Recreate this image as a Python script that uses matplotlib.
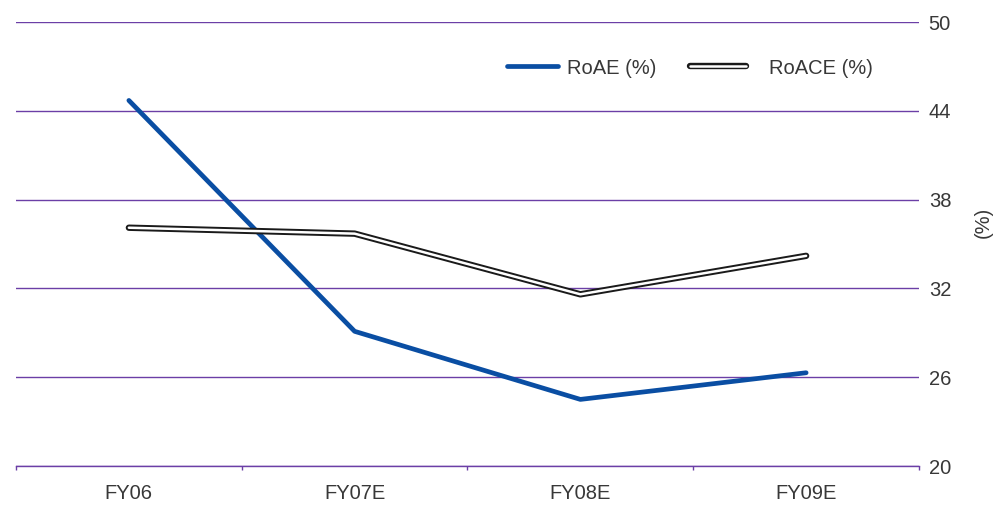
import matplotlib.pyplot as plt
from matplotlib.lines import Line2D
import numpy as np

categories = ['FY06', 'FY07E', 'FY08E', 'FY09E']
roae = [44.7, 29.1, 24.5, 26.3]
roace = [36.1, 35.7, 31.6, 34.2]
yticks = [20, 26, 32, 38, 44, 50]

plt.rcParams['font.family'] = ['Liberation Sans', 'DejaVu Sans']
grid_col = '#6b3fa6'
text_col = '#383838'
blue = '#0a4ea3'
fs = 14.5

fig = plt.figure(figsize=(10.03, 5.08), dpi=100)
ax = fig.add_axes([16 / 1003, 1 - 466 / 508, 903 / 1003, 444 / 508])

x = np.arange(len(categories))
ax.plot(x, roae, color=blue, lw=3.4, solid_capstyle='round', zorder=3)
ax.plot(x, roace, color='#1a1a1a', lw=4.6, solid_capstyle='round', zorder=4)
ax.plot(x, roace, color='white', lw=1.8, solid_capstyle='round', zorder=5)

ax.set_xlim(-0.5, len(categories) - 0.5)
ax.set_ylim(20, 50)
ax.set_yticks(yticks)
ax.yaxis.tick_right()
ax.tick_params(axis='y', length=0, pad=7, labelsize=fs, labelcolor=text_col)
ax.set_xticks(x)
ax.set_xticklabels(categories)
ax.set_xticks(np.arange(len(categories) + 1) - 0.5, minor=True)
ax.tick_params(axis='x', which='major', length=0, pad=13, labelsize=fs, labelcolor=text_col)
ax.tick_params(axis='x', which='minor', length=3, width=1, color=grid_col)
ax.grid(axis='y', color=grid_col, lw=1)

for s in ['top', 'left', 'right']:
    ax.spines[s].set_visible(False)
ax.spines['bottom'].set_color(grid_col)
ax.spines['bottom'].set_linewidth(1)

fig.text(983 / 1003, 1 - 222 / 508, '(%)', rotation=90, ha='center', va='center',
         fontsize=fs, color=text_col)

# two separate legend boxes so each entry keeps its own spacing
h1 = Line2D([], [], color=blue, lw=3.4, solid_capstyle='round')
h2 = (Line2D([], [], color='#1a1a1a', lw=4.6, solid_capstyle='round'),
      Line2D([], [], color='white', lw=1.8, solid_capstyle='round'))
leg1 = fig.legend([h1], ['RoAE (%)'], frameon=False,
                  loc='center left', bbox_to_anchor=(507 / 1003, 1 - 68 / 508),
                  borderaxespad=0, borderpad=0, fontsize=fs,
                  handlelength=2.54, handletextpad=0.45, labelcolor=text_col)
leg2 = fig.legend([h2], ['RoACE (%)'], frameon=False,
                  loc='center left', bbox_to_anchor=(690 / 1003, 1 - 68 / 508),
                  borderaxespad=0, borderpad=0, fontsize=fs,
                  handlelength=2.79, handletextpad=1.14, labelcolor=text_col)

fig.savefig('out.png', dpi=100)
